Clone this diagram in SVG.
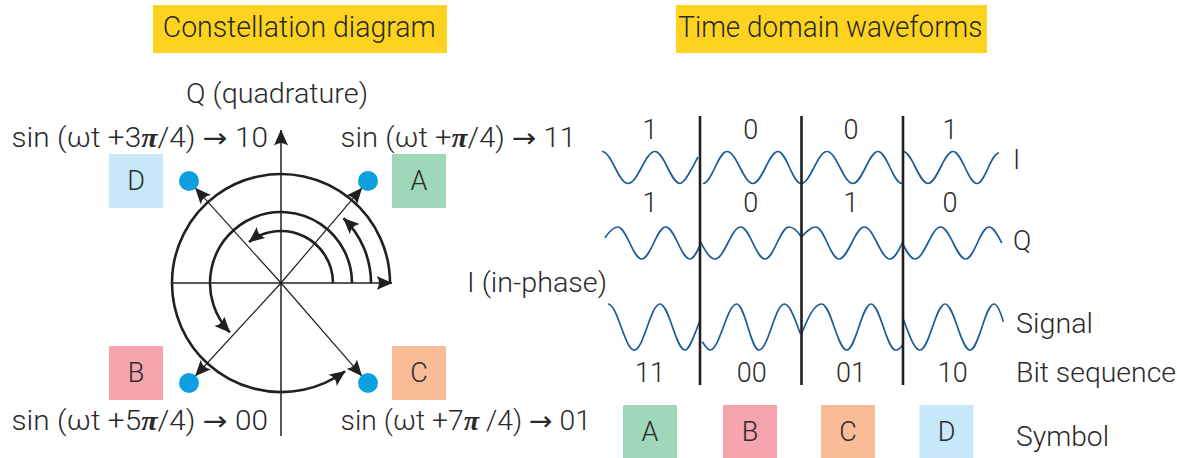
<svg xmlns="http://www.w3.org/2000/svg" width="1177" height="458" viewBox="0 0 1177 458">
<defs>
<style>
.t{font-family:Roboto,"Liberation Sans",sans-serif;font-weight:300;fill:#2a2a2a;font-size:27px}
.tt{font-family:Roboto,"Liberation Sans",sans-serif;font-weight:300;fill:#2a2a2a;font-size:29px}
.c{text-anchor:middle}
.pi{font-family:"Liberation Serif",serif;font-weight:bold;font-style:italic}
.ar{font-family:"DejaVu Sans",sans-serif;font-weight:normal}
.ax{stroke:#231f20;stroke-width:1.5;fill:none}
.thin{stroke:#231f20;stroke-width:1.2;fill:none}
.arc{stroke:#231f20;stroke-width:2.6;fill:none}
.wave{stroke:#1b5b97;stroke-width:1.7;fill:none}
.bar{stroke:#231f20;stroke-width:2.6}
.dot{fill:#0d9fe0}
.yl{fill:#fed31f}
.sa{fill:#9ed8b8}.sb{fill:#f6a4ae}.sc{fill:#f8bc97}.sd{fill:#c6e8f8}
</style>
<marker id="ah" markerUnits="userSpaceOnUse" markerWidth="16" markerHeight="14" viewBox="0 0 16 14" refX="15.5" refY="7" orient="auto">
<path d="M16,7 L0,0 Q5,7 0,14 Z" fill="#231f20"/>
</marker>
</defs>

<g id="title-constellation">
<rect class="yl" x="153" y="5" width="294" height="48"/>
<text class="tt" x="162.7" y="37" textLength="273" lengthAdjust="spacingAndGlyphs">Constellation diagram</text>
</g>
<g id="title-time">
<rect class="yl" x="676" y="5" width="311" height="48"/>
<text class="tt" x="678.3" y="37" textLength="304" lengthAdjust="spacingAndGlyphs">Time domain waveforms</text>
</g>

<g id="axes">
<line class="ax" x1="281" y1="436" x2="281" y2="130" marker-end="url(#ah)"/>
<line class="ax" x1="171" y1="283" x2="392" y2="283" marker-end="url(#ah)"/>
<text class="t" x="186" y="103" textLength="182" lengthAdjust="spacingAndGlyphs">Q (quadrature)</text>
<text class="t" x="467" y="292" textLength="140" lengthAdjust="spacingAndGlyphs">I (in-phase)</text>
</g>

<g id="connectors">
<path class="arc" d="M333,283 A52,52 0 0 0 249,242" marker-end="url(#ah)"/>
<path class="arc" d="M352,283 A71,71 0 1 0 229.9,332.3" marker-end="url(#ah)"/>
<path class="arc" d="M371,283 A90,90 0 0 0 343.5,218.3" marker-end="url(#ah)"/>
<path class="arc" d="M390,283 A109,109 0 1 0 345.1,371.2" marker-end="url(#ah)"/>
<line class="thin" x1="281" y1="283" x2="195.4" y2="188.1" marker-end="url(#ah)"/>
<line class="thin" x1="281" y1="283" x2="361.8" y2="188.2" marker-end="url(#ah)"/>
<line class="thin" x1="281" y1="283" x2="195.4" y2="376" marker-end="url(#ah)"/>
<line class="thin" x1="281" y1="283" x2="361.8" y2="375.8" marker-end="url(#ah)"/>
</g>

<g id="point-D">
<circle class="dot" cx="189" cy="181" r="10"/>
<rect class="sd" x="109" y="154" width="54" height="54"/>
<text class="t c" x="136" y="190">D</text>
<text class="t" x="11.5" y="146.5" textLength="256.5" lengthAdjust="spacingAndGlyphs">sin (ωt  +3<tspan class="pi">π</tspan>/4) <tspan class="ar">→</tspan> 10</text>
</g>
<g id="point-A">
<circle class="dot" cx="368" cy="181" r="10"/>
<rect class="sa" x="392" y="154" width="54" height="54"/>
<text class="t c" x="419" y="190">A</text>
<text class="t" x="340.6" y="146.5" textLength="235.4" lengthAdjust="spacingAndGlyphs">sin (ωt  +<tspan class="pi">π</tspan>/4) <tspan class="ar">→</tspan> 11</text>
</g>
<g id="point-B">
<circle class="dot" cx="189" cy="383" r="10"/>
<rect class="sb" x="109" y="346" width="54" height="54"/>
<text class="t c" x="136" y="382">B</text>
<text class="t" x="11.5" y="430" textLength="256.5" lengthAdjust="spacingAndGlyphs">sin (ωt  +5<tspan class="pi">π</tspan>/4) <tspan class="ar">→</tspan> 00</text>
</g>
<g id="point-C">
<circle class="dot" cx="368" cy="383" r="10"/>
<rect class="sc" x="392" y="346" width="54" height="54"/>
<text class="t c" x="419" y="382">C</text>
<text class="t" x="340.6" y="430" textLength="250.4" lengthAdjust="spacingAndGlyphs">sin (ωt  +7<tspan class="pi">π</tspan> /4) <tspan class="ar">→</tspan> 01</text>
</g>

<g id="waveforms">
<path class="wave" d="M602,151.5 C611.45,151.5 618.55,183.5 628,183.5 C637.81,183.5 645.19,151.5 655,151.5 C664.09,151.5 670.91,183.5 680,183.5 C685,183.5 693,166 698,157
M703,183.5 C711.72,183.5 718.28,151.5 727,151.5 C736.45,151.5 743.55,183.5 753,183.5 C762.09,183.5 768.91,151.5 778,151.5 C786.36,151.5 792.64,183.5 801,183.5
C810.45,183.5 817.55,151.5 827,151.5 C836.45,151.5 843.55,183.5 853,183.5 C862.09,183.5 868.91,151.5 878,151.5 C886.72,151.5 893.28,183.5 902,183.5
M903,151.5 C912.09,151.5 918.91,183.5 928,183.5 C937.09,183.5 943.91,151.5 953,151.5 C961.72,151.5 968.28,183.5 977,183.5 C985,183.5 991,153 999,153"/>
<path class="wave" d="M605,237.7 C609,232 613,227 617.7,227 C626.42,227 632.98,259 641.7,259 C650.42,259 656.98,227 665.7,227 C674.53,227 681.17,259 690,259 C694,259 697.4,251.2 701,243
C705.6,251.2 709.9,259 715,259 C724.34,259 731.36,227 740.7,227 C749.53,227 756.17,259 765,259 C773.72,259 780.28,227 789,227 C793.5,227 797.5,231 801.5,237
C806,232 810.5,227 815.7,227 C824.17,227 830.53,259 839,259 C848.19,259 855.11,227 864.3,227 C873.64,227 880.66,259 890,259 C894.45,259 898.3,251.2 902.3,243
C906.4,251.2 910.4,259 915,259 C924.34,259 931.36,227 940.7,227 C949.79,227 956.61,259 965.7,259 C974.17,259 980.53,227 989,227 C993.6,227 997.6,234.8 1001.7,243"/>
<path class="wave" d="M608,304 C617.56,304 624.74,350 634.3,350 C643.64,350 650.66,304 660,304 C669.09,304 675.91,350 685,350 C689.5,350 694,336 700,320.5
M702.3,341.7 C705,346 707.5,350 710,350 C719.7,350 727,304 736.7,304 C744.8,304 750.9,350 759,350 C768.19,350 775.11,304 784.3,304 C788.9,304 793.5,314 800,333
L801.7,333.3 C808,318 814,304 821.7,304 C830.79,304 837.61,350 846.7,350 C855.53,350 862.17,304 871,304 C879.98,304 886.72,350 895.7,350 C898.5,350 901,348 903.3,343.3
M903.3,319.3 C909,334 914,350 920,350 C929.09,350 935.91,304 945,304 C954.09,304 960.91,350 970,350 C978.72,350 985.28,304 994,304 C997.5,304 1000.5,312 1003.3,321.7"/>
<line class="bar" x1="700" y1="116" x2="700" y2="385"/>
<line class="bar" x1="801.5" y1="116" x2="801.5" y2="385"/>
<line class="bar" x1="903" y1="116" x2="903" y2="385"/>
</g>

<g id="bit-labels">
<text class="t c" x="650" y="139">1</text>
<text class="t c" x="750.7" y="139">0</text>
<text class="t c" x="851" y="139">0</text>
<text class="t c" x="950" y="139">1</text>
<text class="t c" x="650" y="212">1</text>
<text class="t c" x="750.7" y="212">0</text>
<text class="t c" x="851" y="212">1</text>
<text class="t c" x="950" y="212">0</text>
<text class="t c" x="650" y="381.7">11</text>
<text class="t c" x="751.7" y="381.7">00</text>
<text class="t c" x="851" y="381.7">01</text>
<text class="t c" x="952.8" y="381.7">10</text>
</g>

<g id="row-labels">
<text class="t" x="1013" y="169">I</text>
<text class="t" x="1013" y="250">Q</text>
<text class="t" x="1016" y="333" textLength="77" lengthAdjust="spacingAndGlyphs">Signal</text>
<text class="t" x="1016" y="381.7" textLength="160" lengthAdjust="spacingAndGlyphs">Bit sequence</text>
<text class="t" x="1016" y="445.7" textLength="93" lengthAdjust="spacingAndGlyphs">Symbol</text>
</g>

<g id="symbol-A"><rect class="sa" x="623" y="405" width="54" height="53"/><text class="t c" x="650" y="441">A</text></g>
<g id="symbol-B"><rect class="sb" x="723" y="405" width="54" height="53"/><text class="t c" x="750" y="441">B</text></g>
<g id="symbol-C"><rect class="sc" x="821" y="405" width="54" height="53"/><text class="t c" x="848" y="441">C</text></g>
<g id="symbol-D"><rect class="sd" x="919.5" y="405" width="54" height="53"/><text class="t c" x="946.5" y="441">D</text></g>
</svg>
